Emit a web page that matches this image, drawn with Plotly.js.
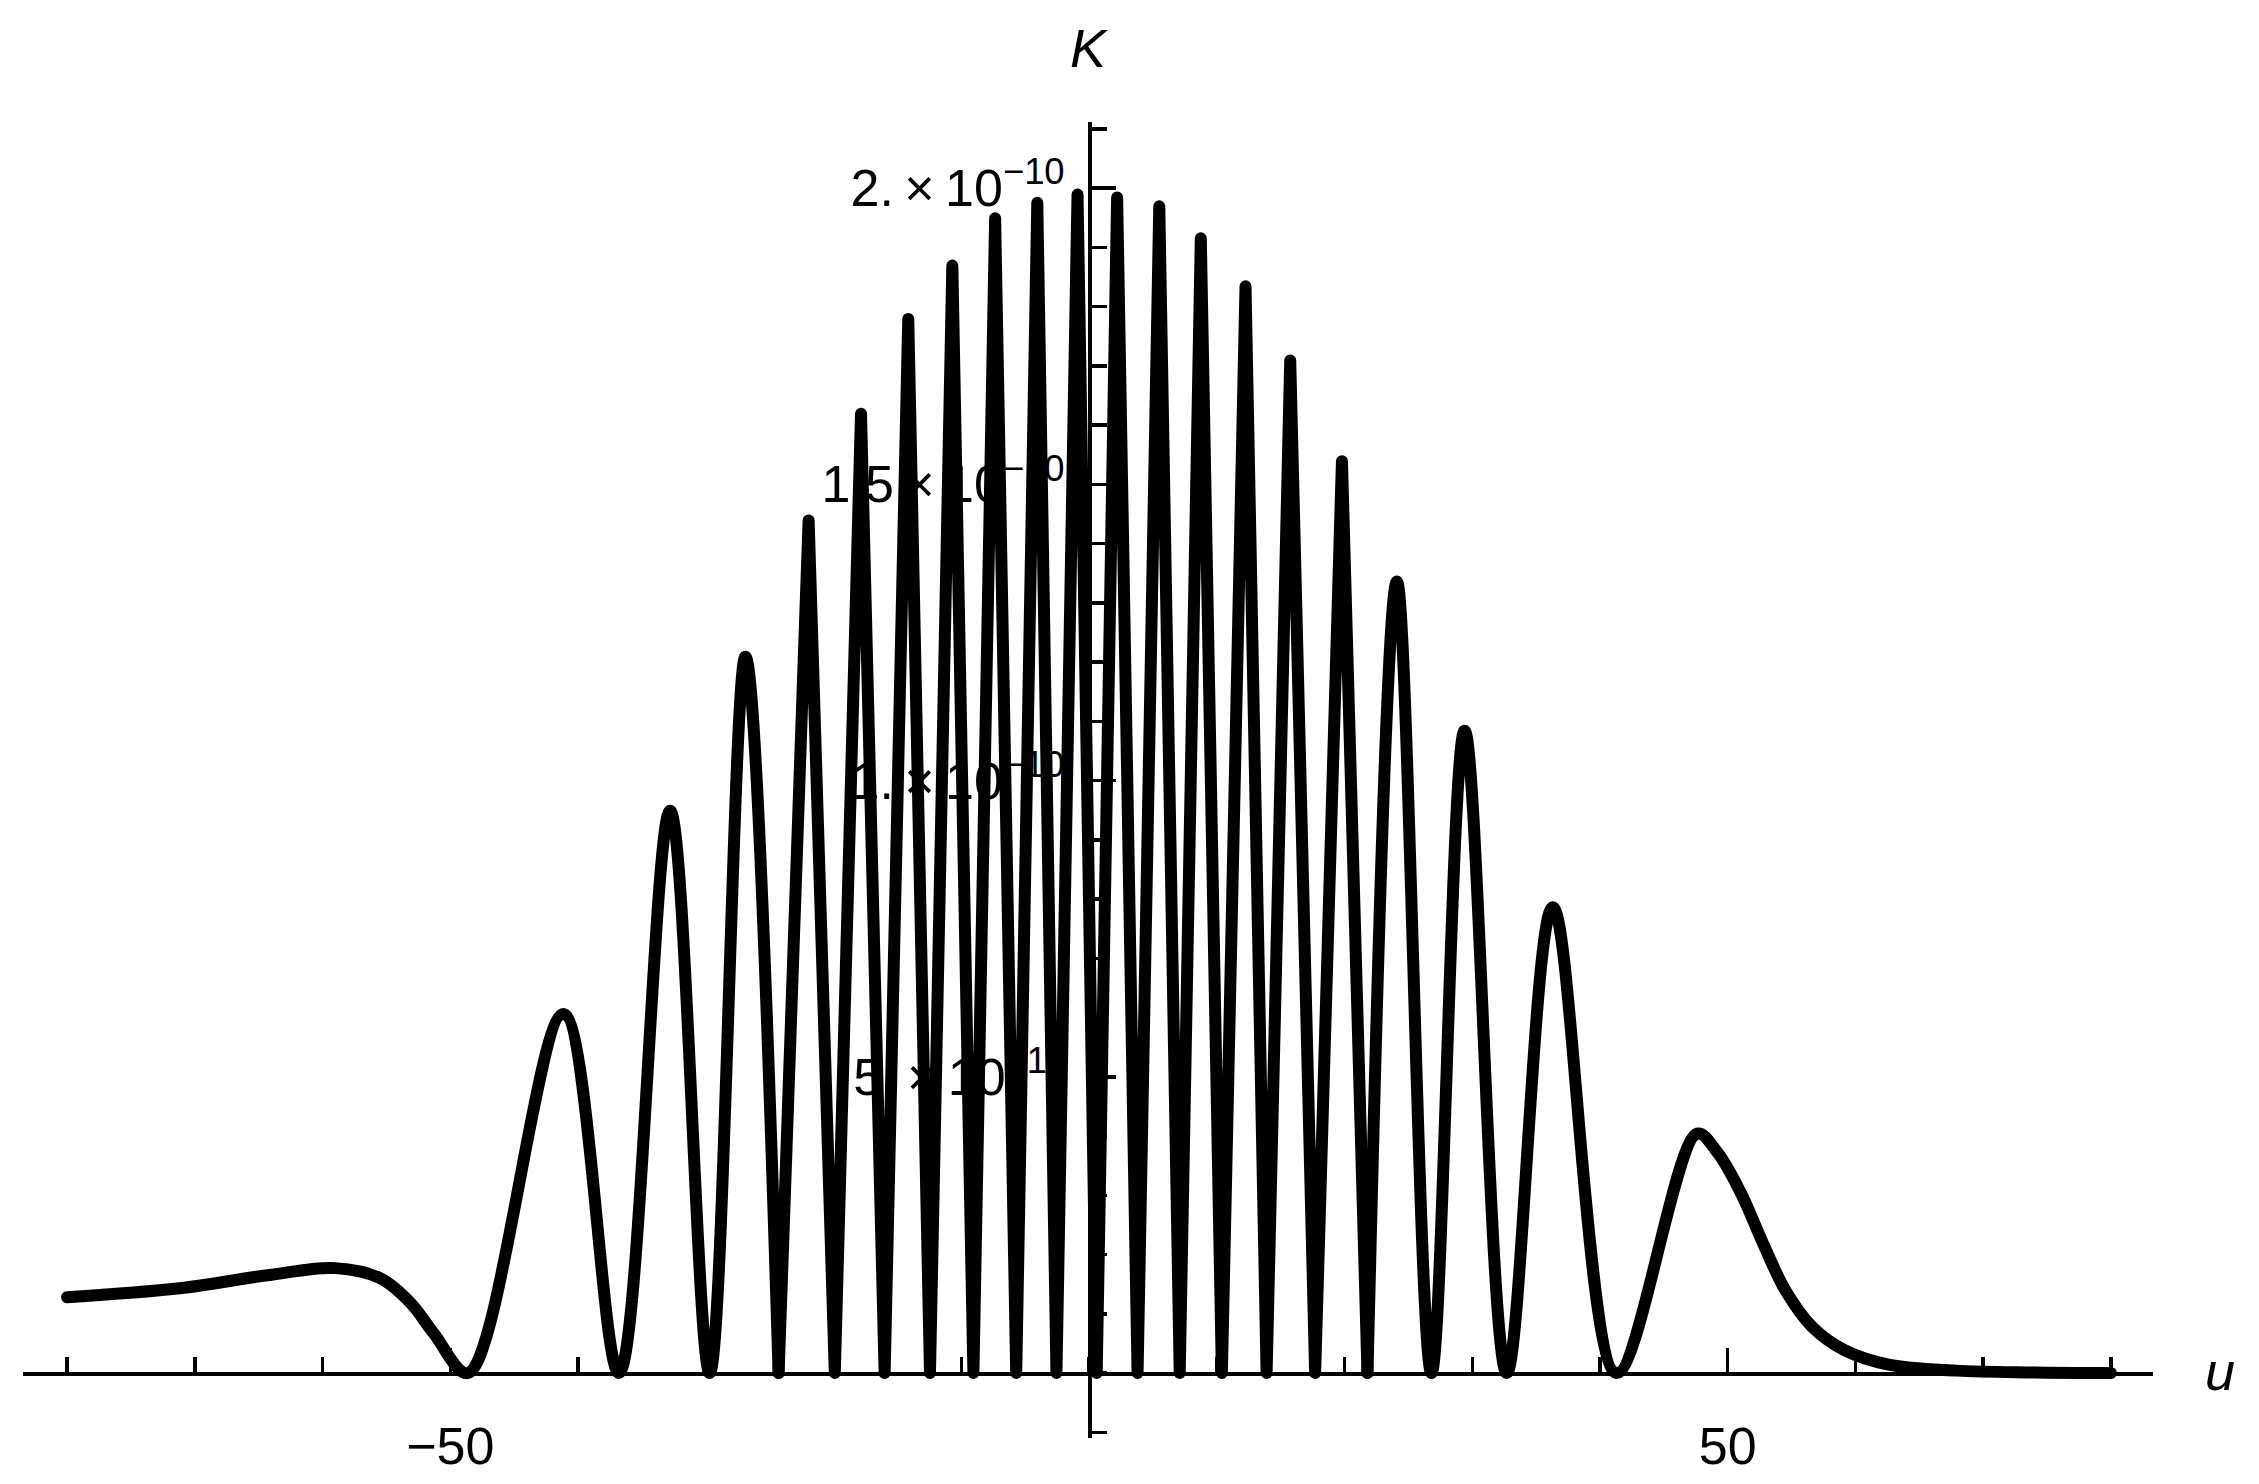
<!DOCTYPE html>
<html><head><meta charset="utf-8">
<script src="https://cdn.plot.ly/plotly-3.0.1.min.js"></script>
<style>
html,body{margin:0;padding:0;background:#fff}
.scatterlayer path.js-line{stroke-linejoin:round;stroke-linecap:round}
</style>
</head><body><div id="chart" style="width:2259px;height:1484px"></div>
<script>
// Curve samples (u, and K in units of 1e-11)
const uValues = [-80, -71.2, -64.3, -59.0, -55.5, -53.1, -51.3, -48.6,
  -41.15, -36.8, -32.8, -29.7, -26.9, -24.3, -21.95, -19.9, -17.85, -16.0,
  -14.15, -12.45, -10.7, -9.05, -7.35, -5.7, -4.05, -2.55, -0.9, 0.6,
  2.2, 3.8, 5.5, 7.1, 8.75, 10.4, 12.25, 13.9, 15.75, 17.7, 19.8, 21.8,
  24.1, 26.8, 29.4, 32.7, 36.3, 41.3, 47.6, 49.2, 51.0, 52.8,
  54.5, 56.6, 59.1, 62.6, 67.9, 74.0, 80.0];
const kValues = [1.28, 1.43, 1.65, 1.77, 1.60, 1.18, 0.67, 0,
  6.06, 0, 9.49, 0, 12.09, 0, 14.39, 0, 16.19, 0,
  17.79, 0, 18.69, 0, 19.49, 0, 19.75, 0, 19.89, 0,
  19.84, 0, 19.69, 0, 19.15, 0, 18.34, 0, 17.09, 0, 15.39, 0,
  13.36, 0, 10.84, 0, 7.86, 0, 4.04, 3.72, 3.05, 2.17,
  1.40, 0.78, 0.39, 0.14, 0.04, 0.01, 0];
const K_UNIT = 1e-11;
// the narrow central lobes are drawn as straight segments (pointed, as in the reference)
const SHARP_FROM = -24.3, SHARP_TO = 21.8;

const xTickVals = [-50, 50];
const xTickText = ['\u221250', '50'];
const yTickVals = [5e-11, 1e-10, 1.5e-10, 2e-10];
const TS = '\u2009';
const yTickText = ['5.' + TS + '\u00d7' + TS + '10<sup>\u221211</sup>',
                   '1.' + TS + '\u00d7' + TS + '10<sup>\u221210</sup>',
                   '1.5' + TS + '\u00d7' + TS + '10<sup>\u221210</sup>',
                   '2.' + TS + '\u00d7' + TS + '10<sup>\u221210</sup>'];
const xTitle = 'u';
const yTitle = 'K';

const W = 2259, H = 1484;
const mL = 23, mR = 106, mT = 122, mB = 46;
const xRange = [-83.45, 83.29];
const yRange = [-1.097e-11, 2.1114e-10];

const FONT = 'Liberation Sans, Arial, sans-serif';
const FS = 52;
const LW = 12;

function part(lo, hi, shape) {
  const xs = [], ys = [];
  uValues.forEach((u, i) => {
    if (u >= lo && u <= hi) { xs.push(u); ys.push(kValues[i] * K_UNIT); }
  });
  return {x: xs, y: ys, type: 'scatter', mode: 'lines',
          line: {color: '#000', width: LW, shape: shape, smoothing: 1},
          hoverinfo: 'skip'};
}
const traces = [
  part(-Infinity, SHARP_FROM, 'spline'),
  part(SHARP_FROM, SHARP_TO, 'linear'),
  part(SHARP_TO, Infinity, 'spline')
];

const yPos = (0 - xRange[0]) / (xRange[1] - xRange[0]);
const xPos = (0 - yRange[0]) / (yRange[1] - yRange[0]);

const layout = {
  width: W, height: H,
  margin: {l: mL, r: mR, t: mT, b: mB, pad: 0},
  paper_bgcolor: '#fff', plot_bgcolor: '#fff',
  showlegend: false,
  font: {family: FONT, size: FS, color: '#000'},
  xaxis: {
    range: xRange, anchor: 'free', position: xPos,
    showgrid: false, zeroline: false,
    showline: true, linecolor: '#000', linewidth: 3.5,
    tickmode: 'array', tickvals: xTickVals, ticktext: xTickText,
    ticks: 'inside', ticklen: 24, tickwidth: 3.5, tickcolor: '#000',
    ticklabelstandoff: 26,
    minor: {tickmode: 'linear', tick0: 0, dtick: 10, ticks: 'inside', ticklen: 15, tickwidth: 3.5, tickcolor: '#000', showgrid: false},
    tickfont: {family: FONT, size: FS, color: '#000'},
    layer: 'below traces', fixedrange: true
  },
  yaxis: {
    range: yRange, anchor: 'free', position: yPos,
    showgrid: false, zeroline: false,
    showline: true, linecolor: '#000', linewidth: 3.5,
    tickmode: 'array', tickvals: yTickVals, ticktext: yTickText,
    ticks: 'inside', ticklen: 24, tickwidth: 3.5, tickcolor: '#000',
    ticklabelstandoff: 13,
    minor: {tickmode: 'linear', tick0: 0, dtick: 1e-11, ticks: 'inside', ticklen: 15, tickwidth: 3.5, tickcolor: '#000', showgrid: false},
    tickfont: {family: FONT, size: FS, color: '#000'},
    layer: 'below traces', fixedrange: true
  },
  annotations: [
    {text: '<i>' + yTitle + '</i>', xref: 'x', x: 0, yref: 'paper', y: (H - mB - 48) / (H - mT - mB),
     xanchor: 'center', yanchor: 'middle', showarrow: false, font: {family: FONT, size: 54, color: '#000'}},
    {text: '<i>' + xTitle + '</i>', xref: 'paper', x: (2220 - mL) / (W - mL - mR), yref: 'y', y: 0,
     xanchor: 'center', yanchor: 'middle', yshift: 2, showarrow: false, font: {family: FONT, size: 54, color: '#000'}}
  ]
};

Plotly.newPlot('chart', traces, layout, {staticPlot: true, displayModeBar: false});
</script></body></html>
